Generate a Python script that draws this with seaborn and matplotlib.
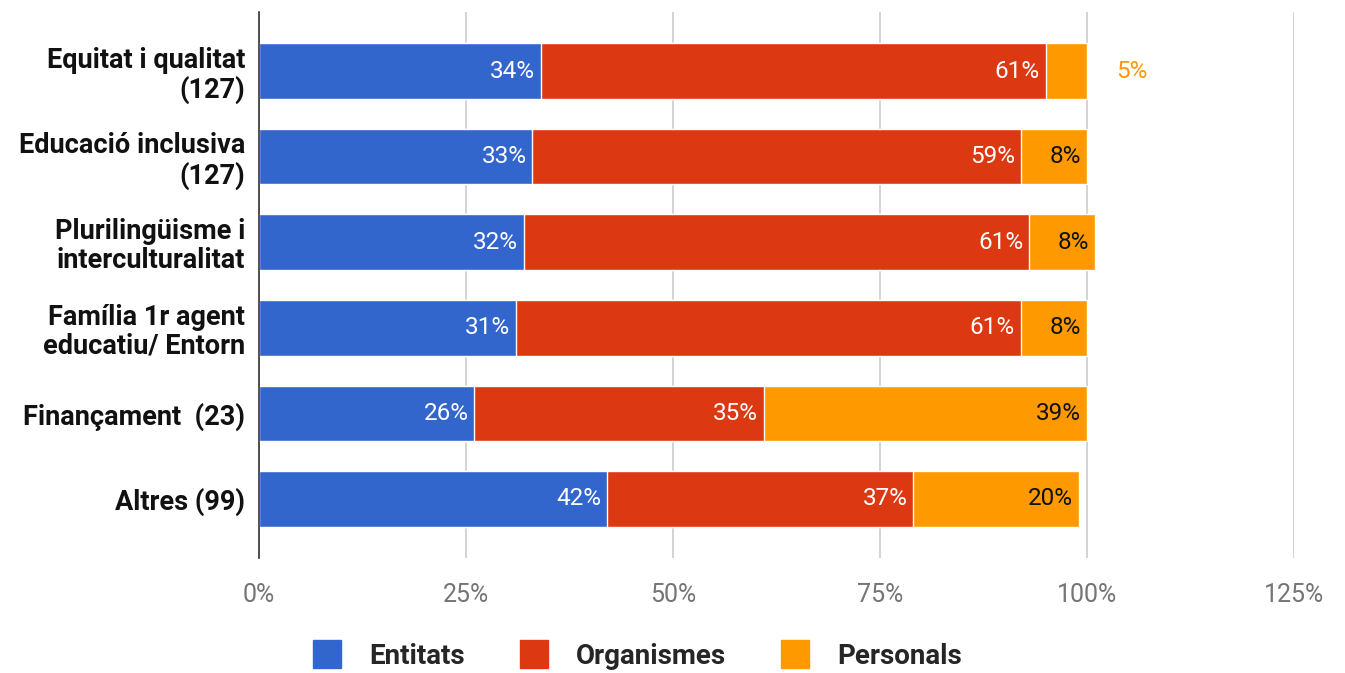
import matplotlib
matplotlib.use("Agg")
import matplotlib.pyplot as plt
import seaborn as sns
import pandas as pd
from matplotlib.patches import Patch

# data
categories = ["Equitat i qualitat\n(127)", "Educació inclusiva\n(127)", "Plurilingüisme i\ninterculturalitat",
              "Família 1r agent\neducatiu/ Entorn", "Finançament  (23)", "Altres (99)"]
entitats = [34, 33, 32, 31, 26, 42]
organismes = [61, 59, 61, 61, 35, 37]
personals = [5, 8, 8, 8, 39, 20]

series = ["Entitats", "Organismes", "Personals"]
colors = ["#3366CC", "#DC3912", "#FF9900"]

sns.set_style("white")
plt.rcParams["font.family"] = ["Roboto", "DejaVu Sans"]

df = pd.DataFrame({"cat": categories, "Entitats": entitats,
                   "Organismes": organismes, "Personals": personals})
df["c1"] = df["Entitats"]
df["c2"] = df["c1"] + df["Organismes"]
df["c3"] = df["c2"] + df["Personals"]

fig = plt.figure(figsize=(13.45, 6.73), dpi=100)
ax = fig.add_axes([0.1926, 0.171, 0.7694, 0.811])

# stacked look: draw the cumulative totals back to front
for col, c in zip(["c3", "c2", "c1"], colors[::-1]):
    sns.barplot(data=df, y="cat", x=col, color=c, orient="h", width=0.65,
                saturation=1, ax=ax, zorder=3)

ax.set_xlim(0, 125)
ax.set_ylim(5.69, -0.69)
ax.set_xticks([0, 25, 50, 75, 100, 125])
ax.set_xticklabels([f"{t}%" for t in [0, 25, 50, 75, 100, 125]])
ax.grid(axis="x", color="#CCCCCC", linewidth=1.2, zorder=0)
ax.set_xlabel("")
ax.set_ylabel("")
for s in ["top", "right", "bottom"]:
    ax.spines[s].set_visible(False)
ax.spines["left"].set_color("#333333")
ax.spines["left"].set_linewidth(1.2)
ax.spines["left"].set_zorder(4)
ax.tick_params(axis="x", length=0, pad=18, labelsize=18, labelcolor="#757575")
ax.tick_params(axis="y", length=0, pad=10)
for lab in ax.get_yticklabels():
    lab.set_fontsize(19.5)
    lab.set_fontweight("bold")
    lab.set_color("#111111")
    lab.set_horizontalalignment("right")
    lab.set_multialignment("right")
    lab.set_linespacing(1.1)

# value labels
for i in range(len(categories)):
    ends = [df["c1"][i], df["c2"][i], df["c3"][i]]
    vals = [entitats[i], organismes[i], personals[i]]
    for j in range(3):
        if j == 2 and vals[j] < 7:
            ax.text(ends[j] + 3.5, i, f"{vals[j]}%", ha="left", va="center",
                    fontsize=17.5, color=colors[2], zorder=5)
        else:
            ax.text(ends[j] - 0.7, i, f"{vals[j]}%", ha="right", va="center",
                    fontsize=17.5, color="white" if j < 2 else "#111111", zorder=5)

handles = [Patch(facecolor=c, edgecolor=c, label=s) for s, c in zip(series, colors)]
fig.legend(handles=handles, loc="center", bbox_to_anchor=(0.474, 0.027), ncol=3,
           frameon=False, prop={"weight": "bold", "size": 20},
           handlelength=1.0, handleheight=1.2, columnspacing=2.0, handletextpad=1.0)

fig.savefig("out.png", dpi=100)
